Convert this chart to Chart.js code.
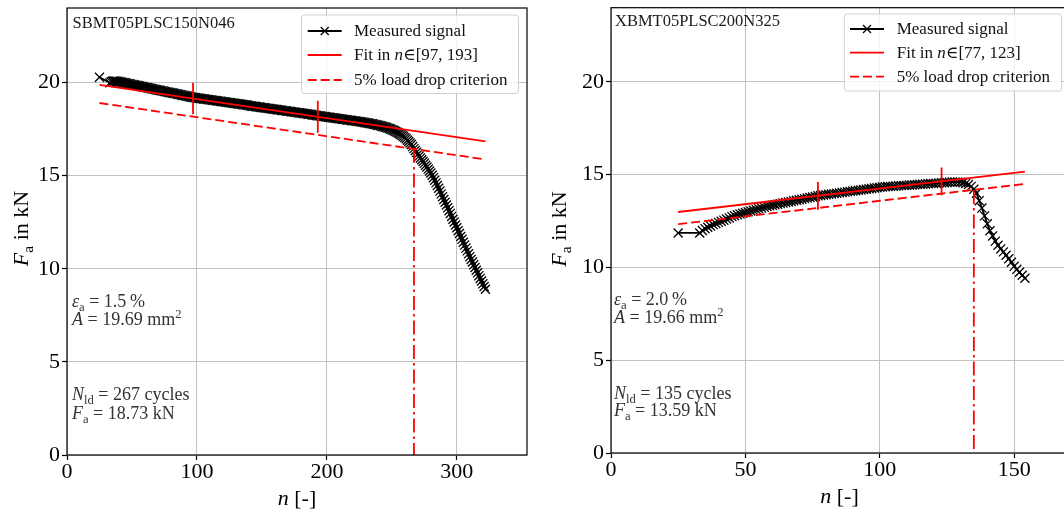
<!DOCTYPE html>
<html>
<head>
<meta charset="utf-8">
<script src="https://cdn.jsdelivr.net/npm/chart.js@4"></script>
<style>
  html, body { margin: 0; padding: 0; background: #fff; overflow: hidden; }
  body { width: 1064px; height: 516px; position: relative; }
  .box { position: absolute; top: 0; height: 516px; }
  #boxL { left: 0; width: 540px; }
  #boxR { left: 544px; width: 530px; }
</style>
</head>
<body>
<div class="box" id="boxL"><canvas id="chartL"></canvas></div>
<div class="box" id="boxR"><canvas id="chartR"></canvas></div>
<script>
const SERIF = '"Liberation Serif", "DejaVu Serif", serif';
const RED = '#ff0000';

/* -------------------------------
   DATA  (left: SBMT05PLSC150N046)
--------------------------------*/
const nLeft = [25,
  33, 34, 35, 36, 37, 38, 39, 40,
  41, 42, 43, 44, 45, 46, 47, 48, 49, 50,
  51, 52, 53, 54, 55, 56, 57, 58, 59, 60,
  61, 62, 63, 64, 65, 66, 67, 68, 69, 70,
  71, 72, 73, 74, 75, 76, 77, 78, 79, 80,
  81, 82, 83, 84, 85, 86, 87, 88, 89, 90,
  91, 92, 93, 94, 95, 96, 97, 98, 99, 100,
  101, 102, 103, 104, 105, 106, 107, 108, 109, 110,
  111, 112, 113, 114, 115, 116, 117, 118, 119, 120,
  121, 122, 123, 124, 125, 126, 127, 128, 129, 130,
  131, 132, 133, 134, 135, 136, 137, 138, 139, 140,
  141, 142, 143, 144, 145, 146, 147, 148, 149, 150,
  151, 152, 153, 154, 155, 156, 157, 158, 159, 160,
  161, 162, 163, 164, 165, 166, 167, 168, 169, 170,
  171, 172, 173, 174, 175, 176, 177, 178, 179, 180,
  181, 182, 183, 184, 185, 186, 187, 188, 189, 190,
  191, 192, 193, 194, 195, 196, 197, 198, 199, 200,
  201, 202, 203, 204, 205, 206, 207, 208, 209, 210,
  211, 212, 213, 214, 215, 216, 217, 218, 219, 220,
  221, 222, 223, 224, 225, 226, 227, 228, 229, 230,
  231, 232, 233, 234, 235, 236, 237, 238, 239, 240,
  241, 242, 243, 244, 245, 246, 247, 248, 249, 250,
  251, 252, 253, 254, 255, 256, 257, 258, 259, 260,
  261, 262, 263, 264, 265, 266, 267, 268, 269, 270,
  271, 272, 273, 274, 275, 276, 277, 278, 279, 280,
  281, 282, 283, 284, 285, 286, 287, 288, 289, 290,
  291, 292, 293, 294, 295, 296, 297, 298, 299, 300,
  301, 302, 303, 304, 305, 306, 307, 308, 309, 310,
  311, 312, 313, 314, 315, 316, 317, 318, 319, 320,
  321, 322];
const fLeft = [20.28,
  19.98, 20.04, 20.07, 20.08, 20.08, 20.07, 20.06, 20.05,
  20.03, 20.02, 20.00, 19.99, 19.97, 19.96, 19.94, 19.93, 19.91, 19.90,
  19.88, 19.87, 19.85, 19.84, 19.82, 19.81, 19.79, 19.78, 19.76, 19.75,
  19.73, 19.72, 19.70, 19.69, 19.67, 19.66, 19.64, 19.63, 19.61, 19.60,
  19.58, 19.57, 19.55, 19.54, 19.52, 19.51, 19.49, 19.48, 19.46, 19.45,
  19.44, 19.42, 19.41, 19.39, 19.38, 19.36, 19.35, 19.33, 19.32, 19.30,
  19.29, 19.27, 19.26, 19.24, 19.23, 19.21, 19.20, 19.19, 19.18, 19.17,
  19.16, 19.15, 19.14, 19.13, 19.12, 19.11, 19.10, 19.09, 19.08, 19.07,
  19.06, 19.05, 19.04, 19.03, 19.02, 19.01, 19.00, 18.99, 18.98, 18.97,
  18.96, 18.95, 18.94, 18.93, 18.92, 18.91, 18.90, 18.89, 18.88, 18.87,
  18.86, 18.85, 18.84, 18.83, 18.82, 18.81, 18.80, 18.79, 18.78, 18.76,
  18.75, 18.74, 18.73, 18.72, 18.71, 18.70, 18.69, 18.68, 18.67, 18.66,
  18.65, 18.64, 18.63, 18.62, 18.61, 18.60, 18.59, 18.58, 18.57, 18.56,
  18.55, 18.54, 18.53, 18.52, 18.51, 18.50, 18.49, 18.48, 18.47, 18.46,
  18.45, 18.44, 18.43, 18.42, 18.41, 18.40, 18.39, 18.38, 18.37, 18.36,
  18.35, 18.34, 18.33, 18.32, 18.31, 18.30, 18.29, 18.28, 18.26, 18.25,
  18.24, 18.23, 18.22, 18.21, 18.20, 18.19, 18.18, 18.17, 18.16, 18.15,
  18.14, 18.13, 18.12, 18.11, 18.10, 18.09, 18.08, 18.07, 18.06, 18.05,
  18.04, 18.03, 18.02, 18.01, 18.00, 17.99, 17.98, 17.97, 17.96, 17.95,
  17.94, 17.93, 17.92, 17.91, 17.90, 17.89, 17.88, 17.87, 17.85, 17.84,
  17.83, 17.82, 17.80, 17.79, 17.78, 17.76, 17.75, 17.73, 17.71, 17.70,
  17.68, 17.66, 17.64, 17.62, 17.60, 17.58, 17.55, 17.53, 17.50, 17.47,
  17.44, 17.41, 17.37, 17.33, 17.29, 17.25, 17.20, 17.15, 17.10, 17.04,
  16.98, 16.90, 16.83, 16.75, 16.67, 16.56, 16.45, 16.35, 16.25, 16.15,
  16.05, 15.95, 15.85, 15.76, 15.66, 15.56, 15.46, 15.35, 15.25, 15.14,
  15.02, 14.89, 14.75, 14.61, 14.47, 14.32, 14.17, 14.02, 13.87, 13.72,
  13.57, 13.42, 13.27, 13.12, 12.97, 12.81, 12.66, 12.51, 12.35, 12.20,
  12.04, 11.89, 11.73, 11.58, 11.42, 11.27, 11.11, 10.96, 10.80, 10.65,
  10.50, 10.36, 10.21, 10.07, 9.92, 9.78, 9.63, 9.48, 9.34, 9.19,
  9.05, 8.90];
const fitLeftN = [25, 322];
const fitLeftF = [19.87, 16.84];
const critLeftF = [18.90, 15.87];
const rangeLeftN = [97, 193];
const rangeLeftF = [[19.98, 18.30], [19.02, 17.30]];
const nldLeft = 267;
const nldLeftF = 16.43;

/* -------------------------------
   DATA  (right: XBMT05PLSC200N325)
--------------------------------*/
const nRight = [25,
  33, 34, 35, 36, 37, 38, 39, 40,
  41, 42, 43, 44, 45, 46, 47, 48, 49, 50,
  51, 52, 53, 54, 55, 56, 57, 58, 59, 60,
  61, 62, 63, 64, 65, 66, 67, 68, 69, 70,
  71, 72, 73, 74, 75, 76, 77, 78, 79, 80,
  81, 82, 83, 84, 85, 86, 87, 88, 89, 90,
  91, 92, 93, 94, 95, 96, 97, 98, 99, 100,
  101, 102, 103, 104, 105, 106, 107, 108, 109, 110,
  111, 112, 113, 114, 115, 116, 117, 118, 119, 120,
  121, 122, 123, 124, 125, 126, 127, 128, 129, 130,
  131, 132, 133, 134, 135, 136, 137, 138, 139, 140,
  141, 142, 143, 144, 145, 146, 147, 148, 149, 150,
  151, 152, 153, 154];
const fRight = [11.86,
  11.86, 11.99, 12.09, 12.17, 12.24, 12.31, 12.37, 12.43,
  12.49, 12.55, 12.61, 12.67, 12.74, 12.79, 12.84, 12.88, 12.92, 12.96,
  13.00, 13.04, 13.08, 13.12, 13.16, 13.20, 13.25, 13.29, 13.32, 13.35,
  13.38, 13.41, 13.44, 13.47, 13.50, 13.53, 13.56, 13.59, 13.62, 13.65,
  13.68, 13.71, 13.74, 13.77, 13.80, 13.83, 13.86, 13.88, 13.90, 13.92,
  13.94, 13.96, 13.98, 14.00, 14.02, 14.04, 14.06, 14.08, 14.10, 14.12,
  14.14, 14.16, 14.18, 14.20, 14.22, 14.24, 14.26, 14.28, 14.30, 14.32,
  14.34, 14.35, 14.36, 14.37, 14.38, 14.39, 14.40, 14.41, 14.42, 14.43,
  14.44, 14.45, 14.46, 14.47, 14.48, 14.49, 14.50, 14.51, 14.52, 14.53,
  14.54, 14.55, 14.56, 14.57, 14.58, 14.59, 14.60, 14.60, 14.60, 14.59,
  14.57, 14.53, 14.47, 14.37, 14.22, 14.00, 13.60, 13.20, 12.78, 12.35,
  11.98, 11.70, 11.42, 11.20, 11.00, 10.84, 10.66, 10.47, 10.28, 10.06,
  9.90, 9.74, 9.58, 9.42];
const fitRightN = [25, 154];
const fitRightF = [12.99, 15.17];
const critRightF = [12.33, 14.50];
const rangeRightN = [77, 123];
const rangeRightF = [[14.61, 13.11], [15.39, 13.89]];
const nldRight = 135;
const nldRightF = 14.18;

/* -------------------------------
   TICKS
--------------------------------*/
const xTicksLeft = [0, 100, 200, 300];
const xTicksRight = [0, 50, 100, 150];
const yTicks = [0, 5, 10, 15, 20];

/* -------------------------------
   HELPERS
--------------------------------*/
function pts(xs, ys) {
  return xs.map((x, i) => ({ x: x, y: ys[i] }));
}

function vbars(xs, ys) {
  const out = [];
  xs.forEach((x, i) => {
    out.push({ x: x, y: ys[i][0] }, { x: x, y: ys[i][1] }, { x: x, y: null });
  });
  return out;
}

// parts: [text, style]  style: '' upright, 'i' italic, 's' subscript, 'p' superscript
function rich(ctx, x, y, parts, size, color, align) {
  const fontOf = st => (st === 'i' ? 'italic ' : '') +
    ((st === 's' || st === 'p') ? size * 0.7 : size) + 'px ' + SERIF;
  let w = 0;
  parts.forEach(p => { ctx.font = fontOf(p[1]); w += ctx.measureText(p[0]).width; });
  let cx = align === 'center' ? x - w / 2 : x;
  ctx.fillStyle = color;
  ctx.textAlign = 'left';
  ctx.textBaseline = 'alphabetic';
  parts.forEach(p => {
    ctx.font = fontOf(p[1]);
    const dy = p[1] === 's' ? size * 0.22 : (p[1] === 'p' ? -size * 0.4 : 0);
    ctx.fillText(p[0], cx, y + dy);
    cx += ctx.measureText(p[0]).width;
  });
}

function cross(ctx, x, y, r) {
  ctx.beginPath();
  ctx.moveTo(x - r, y - r); ctx.lineTo(x + r, y + r);
  ctx.moveTo(x - r, y + r); ctx.lineTo(x + r, y - r);
  ctx.stroke();
}

/* -------------------------------
   DECORATION PLUGIN (frame, legend, texts)
--------------------------------*/
const deco = {
  id: 'deco',
  afterDatasetsDraw(chart, args, o) {
    const ctx = chart.ctx, a = chart.chartArea;
    ctx.save();

    // frame
    ctx.strokeStyle = '#000';
    ctx.lineWidth = 1.2;
    ctx.strokeRect(a.left, a.top, a.right - a.left, a.bottom - a.top);

    // specimen id
    rich(ctx, o.id.x, o.id.y, [[o.id.text, '']], 16.5, '#1a1a1a');

    // notes
    o.notes.forEach((parts, i) => rich(ctx, o.noteX, o.noteY[i], parts, 18, '#333'));

    // legend box
    const L = o.legend;
    const r = 3;
    ctx.beginPath();
    ctx.moveTo(L.x + r, L.y);
    ctx.lineTo(L.x + L.w - r, L.y);
    ctx.quadraticCurveTo(L.x + L.w, L.y, L.x + L.w, L.y + r);
    ctx.lineTo(L.x + L.w, L.y + L.h - r);
    ctx.quadraticCurveTo(L.x + L.w, L.y + L.h, L.x + L.w - r, L.y + L.h);
    ctx.lineTo(L.x + r, L.y + L.h);
    ctx.quadraticCurveTo(L.x, L.y + L.h, L.x, L.y + L.h - r);
    ctx.lineTo(L.x, L.y + r);
    ctx.quadraticCurveTo(L.x, L.y, L.x + r, L.y);
    ctx.closePath();
    ctx.fillStyle = 'rgba(255,255,255,0.8)';
    ctx.fill();
    ctx.strokeStyle = '#d0d0d0';
    ctx.lineWidth = 1;
    ctx.stroke();

    chart.data.datasets.slice(0, 3).forEach((ds, i) => {
      const y = L.lineY[i];
      ctx.strokeStyle = ds.borderColor;
      ctx.lineWidth = ds.borderWidth;
      ctx.setLineDash(ds.borderDash || []);
      ctx.beginPath();
      ctx.moveTo(L.x0, y);
      ctx.lineTo(L.x1, y);
      ctx.stroke();
      ctx.setLineDash([]);
      if (ds.pointRadius > 0) {
        ctx.lineWidth = ds.pointBorderWidth;
        cross(ctx, (L.x0 + L.x1) / 2, y, 4);
      }
      rich(ctx, L.tx, L.textY[i], L.labels[i], 17, '#111');
    });

    // axis titles
    rich(ctx, o.xTitle.x, o.xTitle.y, [['n', 'i'], [' [-]', '']], 22, '#000', 'center');
    ctx.save();
    ctx.translate(o.yTitle.x, o.yTitle.y);
    ctx.rotate(-Math.PI / 2);
    rich(ctx, 0, 0, [['F', 'i'], ['a', 's'], [' in kN', '']], 22, '#000', 'center');
    ctx.restore();

    ctx.restore();
  }
};

/* -------------------------------
   CHART
--------------------------------*/
function makeChart(id, d) {
  const tickFont = { family: SERIF, size: 22, lineHeight: 1 };
  const grid = { color: '#c2c2c2', lineWidth: 1, tickColor: '#000', tickLength: 5, tickWidth: 1.2 };
  return new Chart(document.getElementById(id), {
    type: 'line',
    data: {
      datasets: [
        { label: 'Measured signal', data: pts(d.n, d.f), borderColor: '#000', borderWidth: 1.8,
          pointStyle: 'crossRot', pointRadius: 6.4, pointBorderWidth: 1.3,
          pointBorderColor: '#000', pointBackgroundColor: '#000', order: 1 },
        { label: d.fitLabel, data: pts(d.fitN, d.fitF), borderColor: RED, borderWidth: 1.8,
          pointRadius: 0, order: 0 },
        { label: '5% load drop criterion', data: pts(d.fitN, d.critF), borderColor: RED,
          borderWidth: 1.8, borderDash: [9, 4], pointRadius: 0, order: 0 },
        { label: 'fit range', data: vbars(d.rangeN, d.rangeF), borderColor: RED, borderWidth: 1.8,
          pointRadius: 0, order: 0 },
        { label: 'N_ld', data: pts([d.nld, d.nld], [d.nldF, 0]), borderColor: RED, borderWidth: 1.8,
          borderDash: [14, 4, 2.5, 4], pointRadius: 0, order: 0 }
      ]
    },
    options: {
      responsive: true,
      maintainAspectRatio: false,
      animation: false,
      events: [],
      layout: { padding: { left: 0, right: d.padR, top: d.padT, bottom: 0 } },
      plugins: {
        legend: { display: false },
        tooltip: { enabled: false },
        deco: d.deco
      },
      scales: {
        x: {
          type: 'linear', min: 0, max: d.xMax,
          afterBuildTicks: s => { s.ticks = d.xTicks.map(v => ({ value: v })); },
          afterFit: s => { s.height = d.xH; s.paddingLeft = 0; s.paddingRight = 0; },
          grid: grid,
          border: { display: false },
          ticks: { font: tickFont, color: '#000', padding: 1, maxRotation: 0 }
        },
        y: {
          type: 'linear', min: 0, max: 24,
          afterBuildTicks: s => { s.ticks = yTicks.map(v => ({ value: v })); },
          afterFit: s => { s.width = 67; s.paddingTop = 0; s.paddingBottom = 0; },
          grid: grid,
          border: { display: false },
          ticks: { font: tickFont, color: '#000', padding: 2 }
        }
      }
    },
    plugins: [deco]
  });
}

const legendRows = fit => [
  [['Measured signal', '']],
  [['Fit in ', ''], ['n', 'i'], ['\u2208', ''], [fit, '']],
  [['5% load drop criterion', '']]
];

makeChart('chartL', {
  n: nLeft, f: fLeft, fitN: fitLeftN, fitF: fitLeftF, critF: critLeftF,
  rangeN: rangeLeftN, rangeF: rangeLeftF, nld: nldLeft, nldF: nldLeftF,
  fitLabel: 'Fit in n\u2208[97, 193]', xMax: 354, xTicks: xTicksLeft,
  padR: 13, padT: 8, xH: 61,
  deco: {
    id: { x: 72.5, y: 27.7, text: 'SBMT05PLSC150N046' },
    noteX: 72,
    noteY: [307.3, 325, 400, 418.7],
    notes: [
      [['\u03b5', 'i'], ['a', 's'], [' = 1.5\u2009%', '']],
      [['A', 'i'], [' = 19.69 mm', ''], ['2', 'p']],
      [['N', 'i'], ['ld', 's'], [' = 267 cycles', '']],
      [['F', 'i'], ['a', 's'], [' = 18.73 kN', '']]
    ],
    legend: { x: 301.5, y: 15, w: 217, h: 78.5, x0: 307.7, x1: 341.7, tx: 354,
      lineY: [31, 55, 80], textY: [36, 60.3, 85], labels: legendRows('[97, 193]') },
    xTitle: { x: 297, y: 505 },
    yTitle: { x: 27.7, y: 228.5 }
  }
});

makeChart('chartR', {
  n: nRight, f: fRight, fitN: fitRightN, fitF: fitRightF, critF: critRightF,
  rangeN: rangeRightN, rangeF: rangeRightF, nld: nldRight, nldF: nldRightF,
  fitLabel: 'Fit in n\u2208[77, 123]', xMax: 169.4, xTicks: xTicksRight,
  padR: 6, padT: 6, xH: 63,
  deco: {
    id: { x: 71, y: 26, text: 'XBMT05PLSC200N325' },
    noteX: 70,
    noteY: [305, 322.7, 399, 416],
    notes: [
      [['\u03b5', 'i'], ['a', 's'], [' = 2.0\u2009%', '']],
      [['A', 'i'], [' = 19.66 mm', ''], ['2', 'p']],
      [['N', 'i'], ['ld', 's'], [' = 135 cycles', '']],
      [['F', 'i'], ['a', 's'], [' = 13.59 kN', '']]
    ],
    legend: { x: 300.3, y: 14, w: 217.4, h: 77, x0: 306, x1: 340, tx: 352.7,
      lineY: [29, 52.7, 76.7], textY: [34.3, 58, 82], labels: legendRows('[77, 123]') },
    xTitle: { x: 295.5, y: 503 },
    yTitle: { x: 22, y: 229 }
  }
});
</script>
</body>
</html>
